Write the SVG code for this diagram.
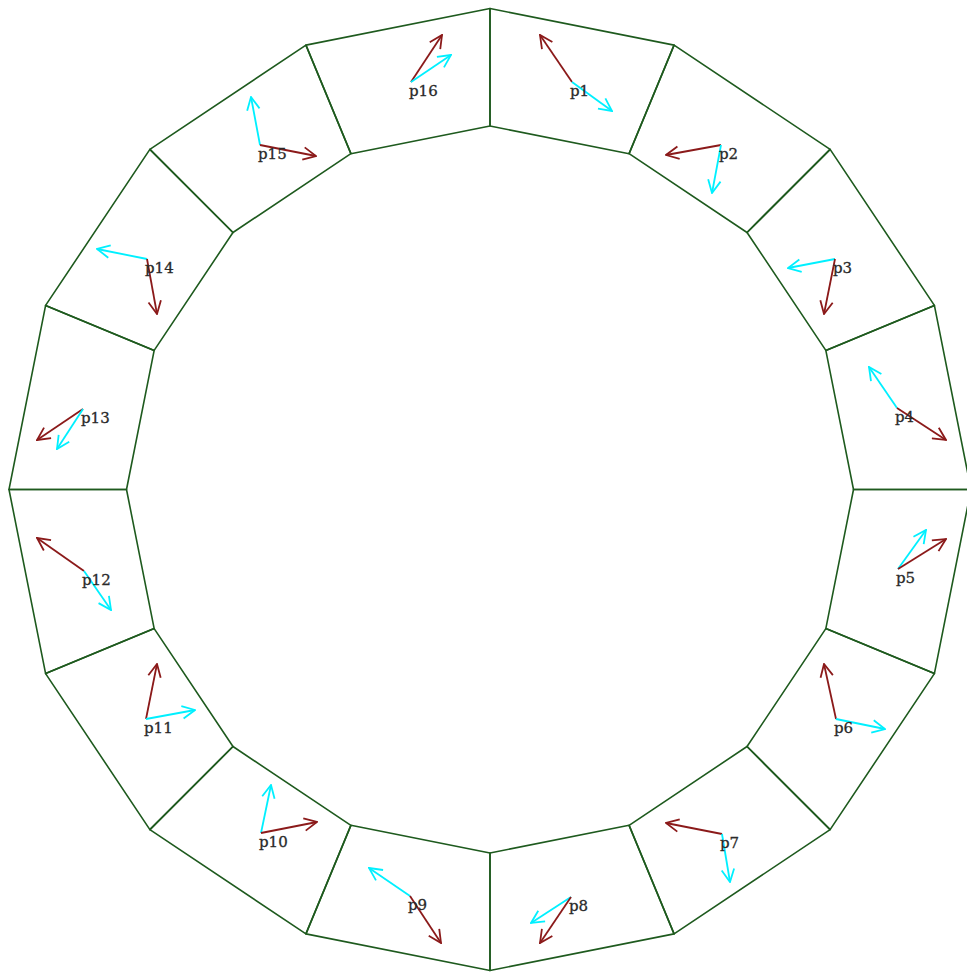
<svg xmlns="http://www.w3.org/2000/svg" width="967" height="972" viewBox="0 0 967 972">
<defs>
<style>
.seg{fill:none;stroke:#1e5a1e;stroke-width:1.6;stroke-linejoin:round}
.r{stroke:#8b1a1a;stroke-width:1.8;fill:none;marker-end:url(#hr)}
.c{stroke:#00f0ff;stroke-width:1.8;fill:none;marker-end:url(#hc)}
.lbl{font-family:"DejaVu Serif","Liberation Serif",serif;font-size:15px;fill:#2a2a2a;stroke:#2a2a2a;stroke-width:0.3}
</style>
<marker id="hr" viewBox="0 0 10 10" refX="9.5" refY="5" markerWidth="15" markerHeight="15" markerUnits="userSpaceOnUse" orient="auto">
<path d="M1,0.8 L9.5,5 L1,9.2" fill="none" stroke="#8b1a1a" stroke-width="1.2"/>
</marker>
<marker id="hc" viewBox="0 0 10 10" refX="9.5" refY="5" markerWidth="15" markerHeight="15" markerUnits="userSpaceOnUse" orient="auto">
<path d="M1,0.8 L9.5,5 L1,9.2" fill="none" stroke="#00f0ff" stroke-width="1.2"/>
</marker>
</defs>
<rect width="967" height="972" fill="#fff"/>
<g id="p1"><polygon class="seg" points="490,8.5 674.07,45.11 629.1,153.67 490,126"/>
<line class="r" x1="572" y1="82" x2="540" y2="35"/><line class="c" x1="572" y1="82" x2="612" y2="111"/>
<text class="lbl" x="570" y="96">p1</text></g>
<g id="p2"><polygon class="seg" points="674.07,45.11 830.12,149.38 747.03,232.47 629.1,153.67"/>
<line class="r" x1="721" y1="145" x2="666" y2="155"/><line class="c" x1="721" y1="145" x2="712" y2="193"/>
<text class="lbl" x="719" y="159">p2</text></g>
<g id="p3"><polygon class="seg" points="830.12,149.38 934.39,305.43 825.83,350.4 747.03,232.47"/>
<line class="c" x1="835" y1="259" x2="788" y2="268"/><line class="r" x1="835" y1="259" x2="824" y2="314"/>
<text class="lbl" x="833" y="273">p3</text></g>
<g id="p4"><polygon class="seg" points="934.39,305.43 971,489.5 853.5,489.5 825.83,350.4"/>
<line class="c" x1="897" y1="408" x2="869" y2="367"/><line class="r" x1="897" y1="408" x2="946" y2="440"/>
<text class="lbl" x="895" y="422">p4</text></g>
<g id="p5"><polygon class="seg" points="971,489.5 934.39,673.57 825.83,628.6 853.5,489.5"/>
<line class="c" x1="898" y1="569" x2="926" y2="530"/><line class="r" x1="898" y1="569" x2="946" y2="539"/>
<text class="lbl" x="896" y="583">p5</text></g>
<g id="p6"><polygon class="seg" points="934.39,673.57 830.12,829.62 747.03,746.53 825.83,628.6"/>
<line class="r" x1="836" y1="719" x2="824" y2="664"/><line class="c" x1="836" y1="719" x2="885" y2="729"/>
<text class="lbl" x="834" y="733">p6</text></g>
<g id="p7"><polygon class="seg" points="830.12,829.62 674.07,933.89 629.1,825.33 747.03,746.53"/>
<line class="r" x1="722" y1="834" x2="666" y2="823"/><line class="c" x1="722" y1="834" x2="730" y2="882"/>
<text class="lbl" x="720" y="848">p7</text></g>
<g id="p8"><polygon class="seg" points="674.07,933.89 490,970.5 490,853 629.1,825.33"/>
<line class="c" x1="571" y1="897" x2="531" y2="923"/><line class="r" x1="571" y1="897" x2="540" y2="943"/>
<text class="lbl" x="569" y="911">p8</text></g>
<g id="p9"><polygon class="seg" points="490,970.5 305.93,933.89 350.9,825.33 490,853"/>
<line class="c" x1="410" y1="896" x2="369" y2="868"/><line class="r" x1="410" y1="896" x2="441" y2="943"/>
<text class="lbl" x="408" y="910">p9</text></g>
<g id="p10"><polygon class="seg" points="305.93,933.89 149.88,829.62 232.97,746.53 350.9,825.33"/>
<line class="c" x1="261" y1="833" x2="271" y2="785"/><line class="r" x1="261" y1="833" x2="317" y2="822"/>
<text class="lbl" x="259" y="847">p10</text></g>
<g id="p11"><polygon class="seg" points="149.88,829.62 45.61,673.57 154.17,628.6 232.97,746.53"/>
<line class="r" x1="146" y1="719" x2="157" y2="664"/><line class="c" x1="146" y1="719" x2="195" y2="710"/>
<text class="lbl" x="144" y="733">p11</text></g>
<g id="p12"><polygon class="seg" points="45.61,673.57 9,489.5 126.5,489.5 154.17,628.6"/>
<line class="r" x1="84" y1="571" x2="37" y2="538"/><line class="c" x1="84" y1="571" x2="111" y2="610"/>
<text class="lbl" x="82" y="585">p12</text></g>
<g id="p13"><polygon class="seg" points="9,489.5 45.61,305.43 154.17,350.4 126.5,489.5"/>
<line class="r" x1="83" y1="409" x2="37" y2="440"/><line class="c" x1="83" y1="409" x2="57" y2="449"/>
<text class="lbl" x="81" y="423">p13</text></g>
<g id="p14"><polygon class="seg" points="45.61,305.43 149.88,149.38 232.97,232.47 154.17,350.4"/>
<line class="c" x1="147" y1="259" x2="97" y2="249"/><line class="r" x1="147" y1="259" x2="157" y2="314"/>
<text class="lbl" x="145" y="273">p14</text></g>
<g id="p15"><polygon class="seg" points="149.88,149.38 305.93,45.11 350.9,153.67 232.97,232.47"/>
<line class="c" x1="260" y1="145" x2="251" y2="97"/><line class="r" x1="260" y1="145" x2="316" y2="156"/>
<text class="lbl" x="258" y="159">p15</text></g>
<g id="p16"><polygon class="seg" points="305.93,45.11 490,8.5 490,126 350.9,153.67"/>
<line class="r" x1="411" y1="82" x2="442" y2="35"/><line class="c" x1="411" y1="82" x2="451" y2="55"/>
<text class="lbl" x="409" y="96">p16</text></g>
<g id="connectors"/>
</svg>
